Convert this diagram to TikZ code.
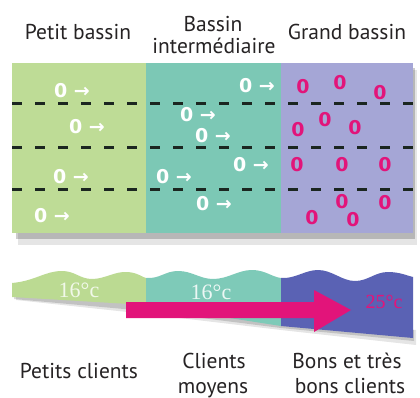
\documentclass[tikz,border=0pt]{standalone}
\usepackage{fontspec}
\setmainfont{PT Sans}
\newfontfamily\symfont{DejaVu Sans}
\newfontfamily\numserif{Liberation Serif}
\definecolor{cgreen}{HTML}{BEDC96}
\definecolor{cteal}{HTML}{7CC8B5}
\definecolor{cpurple}{HTML}{A5A6D6}
\definecolor{cband}{HTML}{5A62B4}
\definecolor{cbgreen}{HTML}{BBDA92}
\definecolor{cbteal}{HTML}{7ECAB8}
\definecolor{cpink}{HTML}{E2147A}
\definecolor{ctext}{HTML}{262324}
\definecolor{cdash}{HTML}{1B2620}
\tikzset{
  lbl/.style={text=ctext, font=\fontsize{21.5}{25}\selectfont, inner sep=0pt, anchor=base},
  swim/.style={text=white, font=\symfont\bfseries\fontsize{19}{19}\selectfont, inner sep=0pt},
  pinko/.style={text=cpink, font=\symfont\bfseries\fontsize{19}{19}\selectfont, inner sep=0pt},
  temp/.style={font=\numserif\fontsize{22}{22}\selectfont, inner sep=0pt},
  lane/.style={draw=cdash, line width=3pt, dash pattern=on 10pt off 13pt},
}
\begin{document}
\begin{tikzpicture}[x=1pt,y=-1pt]
\useasboundingbox (0,0) rectangle (420,398);
\fill[white] (0,0) rectangle (420,398);
% titles
\node[lbl] (t1) at (78,40) {Petit bassin};
\node[lbl] (t2a) at (213,32) {Bassin};
\node[lbl] (t2b) at (214,54) {intermédiaire};
\node[lbl] (t3) at (347,40) {Grand bassin};
% pool shadow
\fill[black,opacity=.10] (18,70) rectangle (417,245);
\fill[black,opacity=.20] (16,68) rectangle (415,239);
% pools
\fill[cgreen] (12,63) rectangle (146,233);
\fill[cteal] (146,63) rectangle (281,233);
\fill[cpurple] (281,63) rectangle (413,233);
% lanes
\draw[lane] (12,104) -- (413,104);
\draw[lane] (12,148) -- (413,148);
\draw[lane] (12,190) -- (413,190);
% swimmers small pool
\node[swim] (g1) at (72,91) {0 →};
\node[swim] (g2) at (87,127) {0 →};
\node[swim] (g3) at (71,177) {0 →};
\node[swim] (g4) at (52,216) {0 →};
% swimmers middle pool
\node[swim] (m1) at (257,86) {0 →};
\node[swim] (m2) at (198,115) {0 →};
\node[swim] (m3) at (213,136) {0 →};
\node[swim] (m4) at (251,165) {0 →};
\node[swim] (m5) at (174,177) {0 →};
\node[swim] (m6) at (214,204) {0 →};
% big pool
\node[pinko] (p1) at (303,87) {0};
\node[pinko] (p2) at (340,83) {0};
\node[pinko] (p3) at (380,93) {0};
\node[pinko] (p4) at (325,120) {0};
\node[pinko] (p5) at (298,130) {0};
\node[pinko] (p6) at (355,128) {0};
\node[pinko] (p7) at (297,165) {0};
\node[pinko] (p8) at (342,165) {0};
\node[pinko] (p9) at (385,165) {0};
\node[pinko] (p10) at (342,202) {0};
\node[pinko] (p11) at (385,203) {0};
\node[pinko] (p12) at (312,218) {0};
\node[pinko] (p13) at (353,220) {0};
% band shadow
\fill[black,opacity=.10] (16,300) -- (146,314) -- (281,330) -- (416,345) -- (416,330) -- (16,292) -- cycle;
\fill[black,opacity=.15] (14,299) -- (146,311) -- (281,328) -- (414,341) -- (414,330) -- (14,292) -- cycle;
% band
\fill[cbgreen] (12,283) .. controls (35,281) and (45,271) .. (62,271) .. controls (75,271) and (80,279) .. (92,279) .. controls (105,279) and (115,271) .. (128,272) .. controls (138,273) and (142,277) .. (146,278) -- (146,305) -- (12,297) -- cycle;
\fill[cbteal] (146,278) .. controls (160,279) and (165,271) .. (178,271) .. controls (192,271) and (200,279) .. (213,279) .. controls (228,279) and (238,270) .. (252,270) .. controls (265,270) and (272,277) .. (281,278) -- (281,326) -- (146,305) -- cycle;
\fill[cband] (281,278) .. controls (295,279) and (305,270) .. (318,270) .. controls (332,270) and (342,281) .. (355,281) .. controls (368,281) and (375,272) .. (388,272) .. controls (400,272) and (408,276) .. (413,277) -- (413,338) -- (281,326) -- cycle;
\node[temp, text=white!80!cbgreen] (c1) at (79,290) {16°c};
\node[temp, text=white!85!cbteal] (c2) at (211,292) {16°c};
\node[temp, text=cpink, font=\numserif\fontsize{20}{20}\selectfont] (c3) at (384,302) {25°c};
% pink arrow
\fill[cpink] (126,302) -- (314,302) -- (314,290) -- (351,310) -- (314,332) -- (314,318) -- (126,318) -- cycle;
% bottom labels
\node[lbl] (b1) at (79,378) {Petits clients};
\node[lbl] (b2a) at (214,368) {Clients};
\node[lbl] (b2b) at (213,393) {moyens};
\node[lbl] (b3a) at (347,368) {Bons et très};
\node[lbl] (b3b) at (350,393) {bons clients};
\end{tikzpicture}
\end{document}
